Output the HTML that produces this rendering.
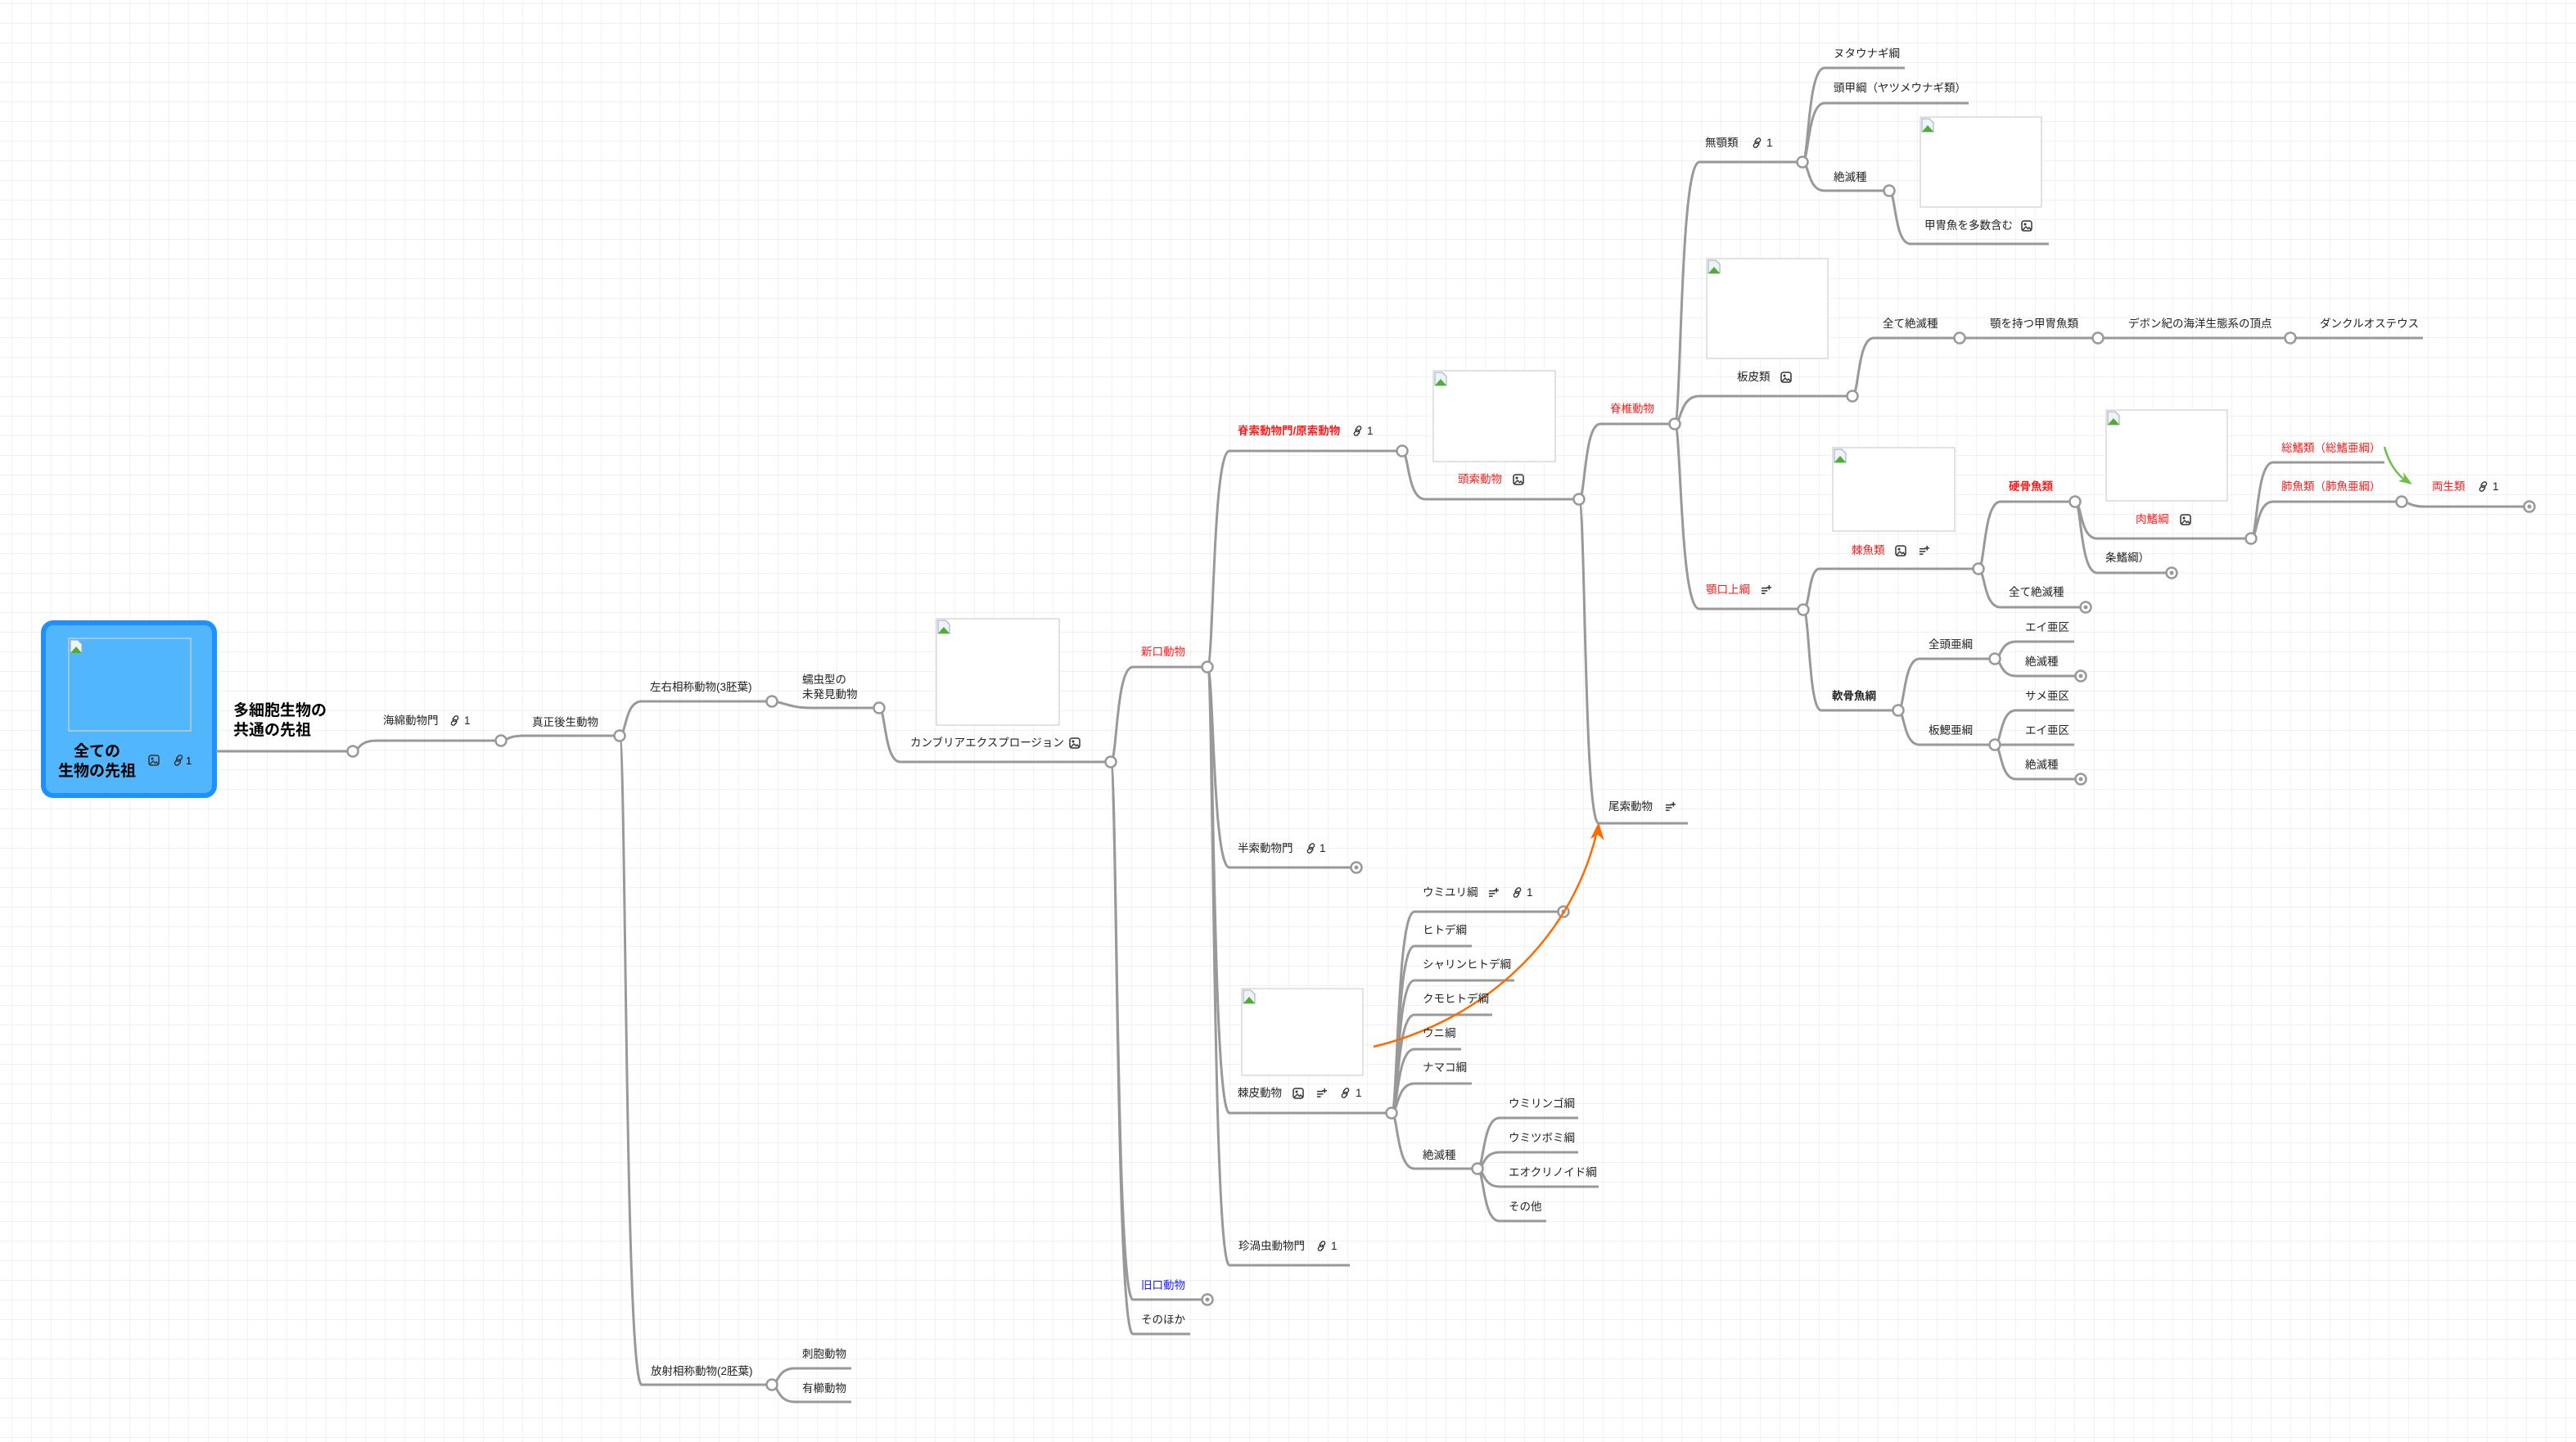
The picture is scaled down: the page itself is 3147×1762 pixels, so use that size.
<!DOCTYPE html>
<html><head><meta charset="utf-8"><style>
html,body{margin:0;padding:0;background:#fff;}
svg{display:block;}
text{font-family:"Liberation Sans","Noto Sans CJK JP",sans-serif;font-size:13.5px;fill:#222;}
.r{fill:#ff1a1a}
.b{font-weight:bold}
.e path{fill:none;stroke:#999;stroke-width:3}
.n circle{fill:#fff;stroke:#999;stroke-width:2.5}
.img{fill:#fff;stroke:#cfcfcf;stroke-width:1.2}
</style></head><body>
<svg width="3147" height="1762" viewBox="0 0 3147 1762" xmlns="http://www.w3.org/2000/svg">
<defs>
<pattern id="g" x="14" y="4" width="24" height="24" patternUnits="userSpaceOnUse">
<path d="M0 0H24M0 0V24" stroke="#e8eee2" stroke-width="1.3" fill="none"/>
</pattern>
<symbol id="pic" viewBox="0 0 14 14"><rect x="1" y="1" width="12" height="12" rx="2.5" fill="none" stroke="#333" stroke-width="1.5"/><circle cx="5" cy="5" r="1.5" fill="#333"/><path d="M2 12L6 8L8.5 10.5L10 9L12.5 12" fill="none" stroke="#333" stroke-width="1.4"/></symbol>
<symbol id="lnk" viewBox="0 0 14 14"><g fill="none" stroke="#333" stroke-width="1.5"><rect x="5.5" y="0.5" width="5" height="8" rx="2.5" transform="rotate(40 8 4.5)"/><rect x="3.5" y="5.5" width="5" height="8" rx="2.5" transform="rotate(40 6 9.5)"/></g></symbol>
<symbol id="note" viewBox="0 0 14 14"><g stroke="#333" stroke-width="1.6"><path d="M1 5H9M1 8.5H9M1 12H6M11 1V7M8 4H14"/></g></symbol>
<symbol id="bi" viewBox="0 0 16 18"><path d="M1 1H10L15 6V17H1Z" fill="#eef3fa" stroke="#9ab" stroke-width="1"/><path d="M1 17L8 9L15 17Z" fill="#4caf32"/></symbol>
</defs>
<rect width="3147" height="1762" fill="#fff"/>
<rect width="3147" height="1762" fill="url(#g)"/>

<rect x="53" y="761" width="209" height="211" rx="12" fill="#52b6fc" stroke="#1e90ff" stroke-width="6"/>
<rect x="84" y="780" width="149" height="113" fill="none" stroke="#d8d0c0" stroke-width="1.2"/>
<use href="#bi" x="85" y="781" width="16" height="18"/>
<text x="90" y="924" class="b" style="font-size:19px;fill:#000">全ての</text>
<text x="71" y="948" class="b" style="font-size:19px;fill:#000">生物の先祖</text>
<use href="#pic" x="181" y="922" width="14" height="14"/>
<use href="#lnk" x="211" y="922" width="14" height="14"/><text x="227" y="934" style="font-size:13px;fill:#000">1</text>
<text x="285" y="874" class="b" style="font-size:19px;fill:#000">多細胞生物の</text>
<text x="285" y="898" class="b" style="font-size:19px;fill:#000">共通の先祖</text>

<g class="e">
<path d="M264 918H431"/>
<path d="M431 918C439 918 437 905 460 905H612"/>
<path d="M612 905C620 905 620 899 640 899H757"/>
<path d="M757 899C765 899 763 857 784 857H943"/>
<path d="M757 899C765 899 763 1692 784 1692H943"/>
<path d="M943 1692C951 1692 949 1672 971 1672H1040"/>
<path d="M943 1692C951 1692 949 1713 971 1713H1040"/>
<path d="M943 857C955 857 965 865 990 865H1074"/>
<path d="M1074 865C1082 865 1080 931 1100 931H1357"/>
<path d="M1357 931C1365 931 1363 815 1384 815H1475"/>
<path d="M1357 931C1365 931 1363 1588 1384 1588H1475"/>
<path d="M1357 931C1365 931 1363 1630 1384 1630H1454"/>
<path d="M1475 815C1483 815 1481 551 1502 551H1713"/>
<path d="M1475 815C1483 815 1481 1060 1502 1060H1657"/>
<path d="M1475 815C1483 815 1481 1360 1502 1360H1700"/>
<path d="M1475 815C1483 815 1481 1546 1502 1546H1649"/>
<path d="M1713 551C1721 551 1719 610 1741 610H1929"/>
<path d="M1929 610C1937 610 1935 518 1955 518H2046"/>
<path d="M1929 610C1937 610 1935 1006 1953 1006H2062"/>
<path d="M2046 518C2054 518 2052 198 2076 198H2202"/>
<path d="M2046 518C2054 518 2052 484 2076 484H2263"/>
<path d="M2046 518C2054 518 2052 744 2076 744H2203"/>
<path d="M2202 198C2210 198 2208 83 2229 83H2327"/>
<path d="M2202 198C2210 198 2208 126 2229 126H2405"/>
<path d="M2202 198C2210 198 2208 233 2229 233H2308"/>
<path d="M2308 233C2316 233 2314 298 2334 298H2503"/>
<path d="M2263 484C2271 484 2269 413 2289 413H2960"/>
<path d="M2203 745C2211 745 2209 695 2223 695H2417"/>
<path d="M2203 745C2211 745 2209 868 2225 868H2319"/>
<path d="M2417 695C2425 695 2423 613 2444 613H2535"/>
<path d="M2417 695C2425 695 2423 742 2444 742H2548"/>
<path d="M2535 613C2543 613 2541 658 2562 658H2750"/>
<path d="M2535 613C2543 613 2541 700 2562 700H2653"/>
<path d="M2750 658C2758 658 2756 565 2777 565H2913"/>
<path d="M2750 658C2758 658 2756 613 2777 613H2934"/>
<path d="M2934 613C2942 613 2945 619 2961 619H3090"/>
<path d="M2319 868C2327 868 2325 805 2345 805H2437"/>
<path d="M2319 868C2327 868 2325 910 2345 910H2437"/>
<path d="M2437 805C2445 805 2443 784 2463 784H2534"/>
<path d="M2437 805C2445 805 2443 826 2463 826H2542"/>
<path d="M2437 910C2445 910 2443 868 2463 868H2534"/>
<path d="M2437 910H2534"/>
<path d="M2437 910C2445 910 2443 952 2463 952H2542"/>
<path d="M1700 1360C1708 1360 1706 1114 1728 1114H1910"/>
<path d="M1700 1360C1708 1360 1706 1156 1728 1156H1798"/>
<path d="M1700 1360C1708 1360 1706 1198 1728 1198H1850"/>
<path d="M1700 1360C1708 1360 1706 1240 1728 1240H1823"/>
<path d="M1700 1360C1708 1360 1706 1282 1728 1282H1785"/>
<path d="M1700 1360C1708 1360 1706 1324 1728 1324H1798"/>
<path d="M1700 1360C1708 1360 1706 1428 1728 1428H1805"/>
<path d="M1805 1428C1813 1428 1811 1366 1832 1366H1928"/>
<path d="M1805 1428C1813 1428 1811 1408 1832 1408H1928"/>
<path d="M1805 1428C1813 1428 1811 1450 1832 1450H1953"/>
<path d="M1805 1428C1813 1428 1811 1492 1832 1492H1889"/>
</g>

<g>
<rect class="img" x="1144" y="756" width="150" height="130"/><use href="#bi" x="1145" y="757" width="16" height="18"/>
<rect class="img" x="1751" y="453" width="149" height="111"/><use href="#bi" x="1752" y="454" width="16" height="18"/>
<rect class="img" x="2346" y="143" width="148" height="110"/><use href="#bi" x="2347" y="144" width="16" height="18"/>
<rect class="img" x="2085" y="316" width="148" height="122"/><use href="#bi" x="2086" y="317" width="16" height="18"/>
<rect class="img" x="2239" y="547" width="149" height="102"/><use href="#bi" x="2240" y="548" width="16" height="18"/>
<rect class="img" x="2573" y="501" width="148" height="111"/><use href="#bi" x="2574" y="502" width="16" height="18"/>
<rect class="img" x="1517" y="1208" width="148" height="106"/><use href="#bi" x="1518" y="1209" width="16" height="18"/>
</g>

<g class="n">
<circle cx="431" cy="918" r="6.5"/><circle cx="612" cy="905" r="6.5"/><circle cx="757" cy="899" r="6.5"/>
<circle cx="943" cy="857" r="6.5"/><circle cx="1074" cy="865" r="6.5"/><circle cx="1357" cy="931" r="6.5"/>
<circle cx="1475" cy="815" r="6.5"/><circle cx="943" cy="1692" r="6.5"/><circle cx="1713" cy="551" r="6.5"/>
<circle cx="1929" cy="610" r="6.5"/><circle cx="2046" cy="518" r="6.5"/><circle cx="2202" cy="198" r="6.5"/>
<circle cx="2308" cy="233" r="6.5"/><circle cx="2263" cy="484" r="6.5"/><circle cx="2394" cy="413" r="6.5"/>
<circle cx="2563" cy="413" r="6.5"/><circle cx="2798" cy="413" r="6.5"/><circle cx="2203" cy="745" r="6.5"/>
<circle cx="2417" cy="695" r="6.5"/><circle cx="2535" cy="613" r="6.5"/><circle cx="2750" cy="658" r="6.5"/>
<circle cx="2934" cy="613" r="6.5"/><circle cx="2319" cy="868" r="6.5"/><circle cx="2437" cy="805" r="6.5"/>
<circle cx="2437" cy="910" r="6.5"/><circle cx="1700" cy="1360" r="6.5"/><circle cx="1805" cy="1428" r="6.5"/>
<circle cx="1475" cy="1588" r="6.5"/><circle cx="1657" cy="1060" r="6.5"/><circle cx="1910" cy="1114" r="6.5"/>
<circle cx="2548" cy="742" r="6.5"/><circle cx="2653" cy="700" r="6.5"/><circle cx="3090" cy="619" r="6.5"/>
<circle cx="2542" cy="826" r="6.5"/><circle cx="2542" cy="952" r="6.5"/>
</g>
<g fill="#999">
<circle cx="1475" cy="1588" r="2.5"/><circle cx="1657" cy="1060" r="2.5"/><circle cx="1910" cy="1114" r="2.5"/>
<circle cx="2548" cy="742" r="2.5"/><circle cx="2653" cy="700" r="2.5"/><circle cx="3090" cy="619" r="2.5"/>
<circle cx="2542" cy="826" r="2.5"/><circle cx="2542" cy="952" r="2.5"/>
</g>

<path d="M1678 1279C1800 1250 1915 1160 1950 1020" fill="none" stroke="#ff6a00" stroke-width="2.5"/>
<path d="M1953 1005L1943 1025L1952 1020L1960 1027Z" fill="#ff6a00"/>
<path d="M2913 546C2918 565 2928 580 2940 588" fill="none" stroke="#6cc04a" stroke-width="2.5"/>
<path d="M2947 592L2930 588L2937 585L2936 577Z" fill="#6cc04a"/>

<text x="468" y="885">海綿動物門</text><use href="#lnk" x="549" y="874" width="13" height="13"/><text x="567" y="885">1</text>
<text x="650" y="887">真正後生動物</text>
<text x="794" y="844">左右相称動物(3胚葉)</text>
<text x="980" y="835">蠕虫型の</text><text x="980" y="853">未発見動物</text>
<text x="1112" y="912">カンブリアエクスプロージョン</text><use href="#pic" x="1306" y="901" width="14" height="14"/>
<text x="795" y="1680">放射相称動物(2胚葉)</text>
<text x="980" y="1659">刺胞動物</text>
<text x="980" y="1701">有櫛動物</text>
<text x="1394" y="801" class="r">新口動物</text>
<text x="1394" y="1575" style="fill:#1a1aff">旧口動物</text>
<text x="1394" y="1617">そのほか</text>
<text x="1513" y="1527">珍渦虫動物門</text><use href="#lnk" x="1608" y="1516" width="13" height="13"/><text x="1626" y="1527">1</text>
<text x="1512" y="1041">半索動物門</text><use href="#lnk" x="1595" y="1030" width="13" height="13"/><text x="1612" y="1041">1</text>
<text x="1512" y="531" class="r b">脊索動物門/原索動物</text><use href="#lnk" x="1652" y="520" width="13" height="13"/><text x="1670" y="531">1</text>
<text x="1781" y="590" class="r">頭索動物</text><use href="#pic" x="1848" y="579" width="14" height="14"/>
<text x="1967" y="504" class="r">脊椎動物</text>
<text x="1965" y="990">尾索動物</text><use href="#note" x="2034" y="979" width="13" height="13"/>
<text x="2083" y="179">無顎類</text><use href="#lnk" x="2140" y="168" width="13" height="13"/><text x="2158" y="179">1</text>
<text x="2240" y="70">ヌタウナギ綱</text>
<text x="2240" y="112">頭甲綱（ヤツメウナギ類）</text>
<text x="2240" y="221">絶滅種</text>
<text x="2351" y="280">甲冑魚を多数含む</text><use href="#pic" x="2469" y="269" width="14" height="14"/>
<text x="2122" y="465">板皮類</text><use href="#pic" x="2175" y="454" width="14" height="14"/>
<text x="2300" y="400">全て絶滅種</text>
<text x="2431" y="400">顎を持つ甲冑魚類</text>
<text x="2600" y="400">デボン紀の海洋生態系の頂点</text>
<text x="2834" y="400">ダンクルオステウス</text>
<text x="2084" y="725" class="r">顎口上綱</text><use href="#note" x="2151" y="714" width="13" height="13"/>
<text x="2262" y="677" class="r">棘魚類</text><use href="#pic" x="2315" y="666" width="14" height="14"/><use href="#note" x="2344" y="666" width="13" height="13"/>
<text x="2454" y="599" class="r b">硬骨魚類</text>
<text x="2454" y="728">全て絶滅種</text>
<text x="2609" y="639" class="r">肉鰭綱</text><use href="#pic" x="2663" y="628" width="14" height="14"/>
<text x="2572" y="686">条鰭綱）</text>
<text x="2787" y="552" class="r">総鰭類（総鰭亜綱）</text>
<text x="2787" y="599" class="r">肺魚類（肺魚亜綱）</text>
<text x="2971" y="599" class="r">両生類</text><use href="#lnk" x="3027" y="588" width="13" height="13"/><text x="3045" y="599">1</text>
<text x="2238" y="855" class="b">軟骨魚綱</text>
<text x="2356" y="792">全頭亜綱</text>
<text x="2356" y="897">板鰓亜綱</text>
<text x="2474" y="771">エイ亜区</text>
<text x="2474" y="813">絶滅種</text>
<text x="2474" y="855">サメ亜区</text>
<text x="2474" y="897">エイ亜区</text>
<text x="2474" y="939">絶滅種</text>
<text x="1512" y="1340">棘皮動物</text><use href="#pic" x="1579" y="1329" width="14" height="14"/><use href="#note" x="1608" y="1329" width="13" height="13"/><use href="#lnk" x="1637" y="1329" width="13" height="13"/><text x="1656" y="1340">1</text>
<text x="1738" y="1095">ウミユリ綱</text><use href="#note" x="1818" y="1084" width="13" height="13"/><use href="#lnk" x="1847" y="1084" width="13" height="13"/><text x="1865" y="1095">1</text>
<text x="1738" y="1141">ヒトデ綱</text>
<text x="1738" y="1183">シャリンヒトデ綱</text>
<text x="1738" y="1225">クモヒトデ綱</text>
<text x="1738" y="1267">ウニ綱</text>
<text x="1738" y="1309">ナマコ綱</text>
<text x="1738" y="1416">絶滅種</text>
<text x="1843" y="1353">ウミリンゴ綱</text>
<text x="1843" y="1395">ウミツボミ綱</text>
<text x="1843" y="1437">エオクリノイド綱</text>
<text x="1843" y="1479">その他</text>
</svg>
</body></html>
